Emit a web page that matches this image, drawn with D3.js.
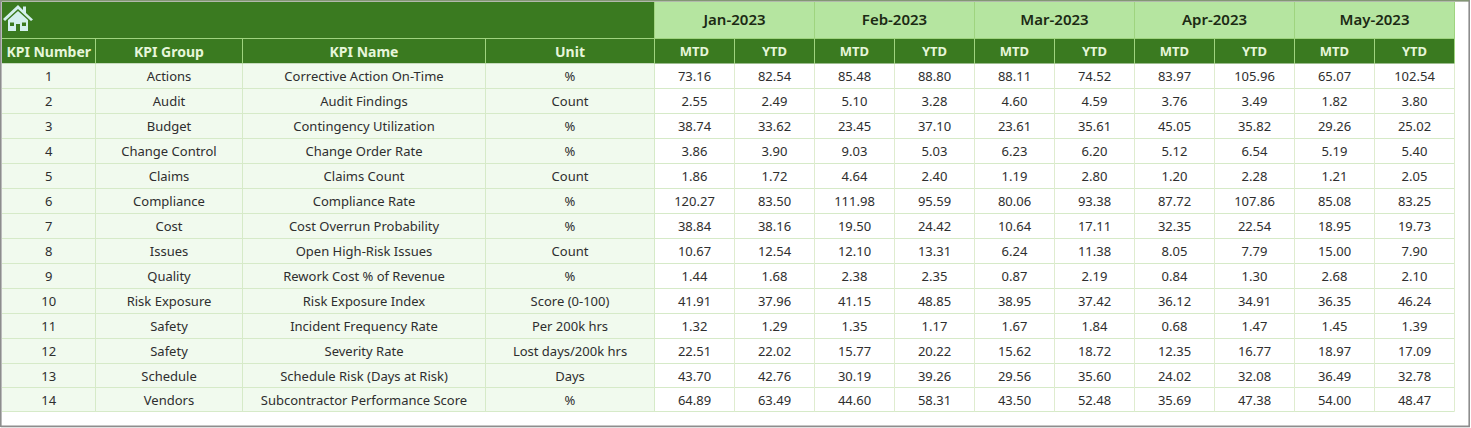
<!DOCTYPE html>
<html><head><meta charset="utf-8">
<script src="https://cdn.jsdelivr.net/npm/d3@7"></script>
<style>html,body{margin:0;padding:0;background:#fff;overflow:hidden}svg{display:block;font-family:"Noto Sans",sans-serif}</style>
</head><body><svg id="c" width="1471" height="428"></svg>
<script>
const kpiNumbers=[1,2,3,4,5,6,7,8,9,10,11,12,13,14];
const kpiGroups=["Actions","Audit","Budget","Change Control","Claims","Compliance","Cost","Issues","Quality","Risk Exposure","Safety","Safety","Schedule","Vendors"];
const kpiNames=["Corrective Action On-Time","Audit Findings","Contingency Utilization","Change Order Rate","Claims Count","Compliance Rate","Cost Overrun Probability","Open High-Risk Issues","Rework Cost % of Revenue","Risk Exposure Index","Incident Frequency Rate","Severity Rate","Schedule Risk (Days at Risk)","Subcontractor Performance Score"];
const units=["%","Count","%","%","Count","%","%","Count","%","Score (0-100)","Per 200k hrs","Lost days/200k hrs","Days","%"];
const months=["Jan-2023","Feb-2023","Mar-2023","Apr-2023","May-2023"];
const measures=["MTD","YTD"];
const leftHeaders=["KPI Number","KPI Group","KPI Name","Unit"];
const jan=[["73.16","82.54"],["2.55","2.49"],["38.74","33.62"],["3.86","3.90"],["1.86","1.72"],["120.27","83.50"],["38.84","38.16"],["10.67","12.54"],["1.44","1.68"],["41.91","37.96"],["1.32","1.29"],["22.51","22.02"],["43.70","42.76"],["64.89","63.49"]];
const feb=[["85.48","88.80"],["5.10","3.28"],["23.45","37.10"],["9.03","5.03"],["4.64","2.40"],["111.98","95.59"],["19.50","24.42"],["12.10","13.31"],["2.38","2.35"],["41.15","48.85"],["1.35","1.17"],["15.77","20.22"],["30.19","39.26"],["44.60","58.31"]];
const mar=[["88.11","74.52"],["4.60","4.59"],["23.61","35.61"],["6.23","6.20"],["1.19","2.80"],["80.06","93.38"],["10.64","17.11"],["6.24","11.38"],["0.87","2.19"],["38.95","37.42"],["1.67","1.84"],["15.62","18.72"],["29.56","35.60"],["43.50","52.48"]];
const apr=[["83.97","105.96"],["3.76","3.49"],["45.05","35.82"],["5.12","6.54"],["1.20","2.28"],["87.72","107.86"],["32.35","22.54"],["8.05","7.79"],["0.84","1.30"],["36.12","34.91"],["0.68","1.47"],["12.35","16.77"],["24.02","32.08"],["35.69","47.38"]];
const may=[["65.07","102.54"],["1.82","3.80"],["29.26","25.02"],["5.19","5.40"],["1.21","2.05"],["85.08","83.25"],["18.95","19.73"],["15.00","7.90"],["2.68","2.10"],["36.35","46.24"],["1.45","1.39"],["18.97","17.09"],["36.49","32.78"],["54.00","48.47"]];
const monthValues=[jan,feb,mar,apr,may];
const colEdges=[2,95.5,242.5,485.5,654.5];

const svg=d3.select("#c");
const DARK="#3a7a20",LIGHT="#b5e5a0",PALE="#f1faee",GRID="#d6eac8",HEADLINE="#9fd47f";
const rowTop=d3.scaleLinear().domain([1,13,15]).range([63.5,363.5,411.5]);
const monthX=d3.scaleBand().domain(months).range([654.5,1454.5]);
const subX=d3.scaleBand().domain(measures).range([0,monthX.bandwidth()]);
const rect=(x,y,w,h,f)=>svg.append("rect").attr("x",x).attr("y",y).attr("width",w).attr("height",h).attr("fill",f);
const text=(x,y,s,o={})=>svg.append("text").attr("x",x).attr("y",y).attr("text-anchor","middle").attr("dominant-baseline","central")
  .attr("font-size",o.size||13).attr("font-weight",o.weight||400).attr("fill",o.fill||"#2e2e2e").text(s);
const line=(x1,y1,x2,y2,c)=>svg.append("line").attr("x1",x1).attr("y1",y1).attr("x2",x2).attr("y2",y2).attr("stroke",c).attr("stroke-width",1);

rect(0,0,1471,428,"#fff");
rect(2,2,652.5,36.5,DARK);
rect(654.5,2,800,36.5,LIGHT);
rect(2,38.5,1452.5,25,DARK);
rect(2,63.5,652.5,348,PALE);
kpiNumbers.forEach(k=>line(2,rowTop(k+1),1454.5,rowTop(k+1),GRID));
colEdges.slice(1).forEach(x=>line(x,63.5,x,411.5,GRID));
months.forEach(m=>{measures.forEach(s=>{const x=monthX(m)+subX(s)+subX.bandwidth();line(x,63.5,x,411.5,"#dfeccf");});});
line(2,38.5,1454.5,38.5,HEADLINE);
colEdges.slice(1).forEach(x=>line(x,38.5,x,63.5,HEADLINE));
line(654.5,2,654.5,38.5,HEADLINE);
months.forEach(m=>{
  const x=monthX(m);
  line(x+monthX.bandwidth(),2,x+monthX.bandwidth(),63.5,HEADLINE);
  line(x+subX.bandwidth(),38.5,x+subX.bandwidth(),63.5,HEADLINE);
  text(x+monthX.bandwidth()/2,18.5,m,{size:15,weight:600,fill:"#1c2a14"});
  measures.forEach(s=>text(x+subX(s)+subX.bandwidth()/2,51,s,{size:13,weight:700,fill:"#e6f6da"}));
});
leftHeaders.forEach((h,i)=>text((colEdges[i]+colEdges[i+1])/2,51,h,{size:14,weight:700,fill:"#e6f6da"}));
kpiNumbers.forEach((k,i)=>{
  const y=(rowTop(k)+rowTop(k+1))/2+0.3;
  [k,kpiGroups[i],kpiNames[i],units[i]].forEach((v,c)=>text((colEdges[c]+colEdges[c+1])/2,y,v,{size:13}));
  months.forEach((m,mi)=>measures.forEach((s,si)=>text(monthX(m)+subX(s)+subX.bandwidth()/2,y,monthValues[mi][i][si],{size:13})));
});
const g=svg.append("g").attr("fill","#d3f0ee");
g.append("path").attr("d","M3 19 L18 5 L23 10 L23 6.5 L26 6.5 L26 13 L33 19.5 L31 21 L18 9 L5 21 Z");
g.append("path").attr("fill-rule","evenodd").attr("d","M8 20 L18 11 L28 20 L28 31 L20 31 L20 24 L16 24 L16 31 L8 31 Z M10 22.5 L10 26 L14 26 L14 22.5 Z M22 22.5 L22 26 L26 26 L26 22.5 Z");
svg.append("path").attr("fill","none").attr("stroke","#8d8d8d").attr("stroke-width",1.6).attr("d","M0.8 427 L0.8 0.8 L1469.2 0.8 L1469.2 426.4 L0.8 426.4");
line(1,0.8,1469,0.8,"#7f9a6c");
</script></body></html>
